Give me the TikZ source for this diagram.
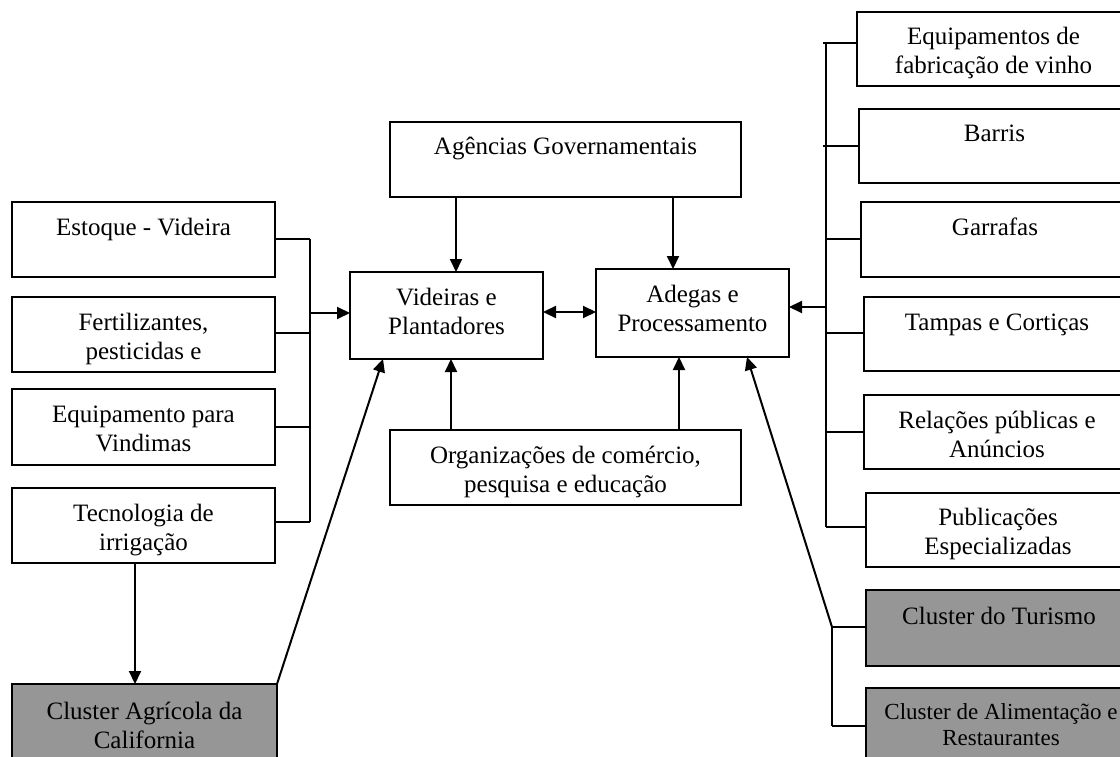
\documentclass[tikz,border=0pt]{standalone}
\usepackage{fontspec}
\setmainfont{Liberation Serif}
\usetikzlibrary{arrows.meta}
\definecolor{clustergray}{RGB}{150,150,150}
\begin{document}
\begin{tikzpicture}[x=1pt,y=-1pt,
  box/.style={draw=black,line width=2pt,fill=white,inner sep=0pt,outer sep=0pt,anchor=north west},
  cluster/.style={box,fill=clustergray},
  txt/.style={inner sep=0pt,anchor=base,align=center,font=\fontsize{25}{29}\selectfont},
  smalltxt/.style={txt,font=\fontsize{23}{26}\selectfont},
  link/.style={line width=2pt},
  arr/.style={link,-{Triangle[length=13pt,width=12pt]}},
  darr/.style={link,{Triangle[length=13pt,width=12pt]}-{Triangle[length=13pt,width=12pt]}}]
\useasboundingbox (0,0) rectangle (1120,757);
\clip (0,0) rectangle (1120,757);

% ---------- supplier boxes, left column
\node[box,minimum width=263pt,minimum height=75pt] (estoque) at (12,202) {};
\node[box,minimum width=263pt,minimum height=75pt] (fert) at (12,297) {};
\node[box,minimum width=263pt,minimum height=76pt] (equip) at (12,389) {};
\node[box,minimum width=263pt,minimum height=75pt] (tecno) at (12,488) {};
\node[cluster,minimum width=265pt,minimum height=90pt] (agricola) at (12,684) {};

% (a two-line text is anchored on the baseline of its second line)
\node[txt] at ([yshift=-33pt]estoque.north) {Estoque - Videira};
\node[txt] at ([yshift=-62pt]fert.north) {Fertilizantes,\\pesticidas e};
\node[txt] at ([yshift=-62pt]equip.north) {Equipamento para\\Vindimas};
\node[txt] at ([yshift=-62pt]tecno.north) {Tecnologia de\\irrigação};
\node[txt] at ([yshift=-64pt]agricola.north) {Cluster Agrícola da\\California};

% ---------- core of the cluster
\node[box,minimum width=193pt,minimum height=87pt] (videiras) at (350,272) {};
\node[box,minimum width=193pt,minimum height=88pt] (adegas) at (596,269) {};
\node[box,minimum width=351pt,minimum height=75pt] (agencias) at (390,122) {};
\node[box,minimum width=351pt,minimum height=75pt] (organiz) at (390,430) {};

\node[txt] at ([yshift=-62pt]videiras.north) {Videiras e\\Plantadores};
\node[txt] at ([yshift=-62pt]adegas.north) {Adegas e\\Processamento};
\node[txt] at ([yshift=-33pt]agencias.north) {Agências Governamentais};
\node[txt] at ([yshift=-62pt]organiz.north) {Organizações de comércio,\\pesquisa e educação};

% ---------- supplier boxes, right column
\node[box,minimum width=273pt,minimum height=74pt] (eqvinho) at (857,12) {};
\node[box,minimum width=271pt,minimum height=74pt] (barris) at (859,109) {};
\node[box,minimum width=268pt,minimum height=75pt] (garrafas) at (861,202) {};
\node[box,minimum width=266pt,minimum height=74pt] (tampas) at (864,297) {};
\node[box,minimum width=266pt,minimum height=74pt] (relacoes) at (864,395) {};
\node[box,minimum width=264pt,minimum height=74pt] (public) at (866,493) {};
\node[cluster,minimum width=266pt,minimum height=76pt] (turismo) at (866,590) {};
\node[cluster,minimum width=270pt,minimum height=90pt] (aliment) at (866,688) {};

\node[txt] at ([yshift=-62pt]eqvinho.north) {Equipamentos de\\fabricação de vinho};
\node[txt] at ([yshift=-33pt]barris.north) {Barris};
\node[txt] at ([yshift=-33pt]garrafas.north) {Garrafas};
\node[txt] at ([yshift=-33pt]tampas.north) {Tampas e Cortiças};
\node[txt] at ([yshift=-62pt]relacoes.north) {Relações públicas e\\Anúncios};
\node[txt] at ([yshift=-61pt]public.north) {Publicações\\Especializadas};
\node[txt] at ([yshift=-34pt]turismo.north) {Cluster do Turismo};
\node[smalltxt] at ([yshift=-57pt]aliment.north) {Cluster de Alimentação e\\Restaurantes};

% ---------- left bracket
\coordinate (lbtop) at (310,239);
\coordinate (lbbot) at (310,522);
\coordinate (lbout) at (310,313);
\draw[link] (lbtop) -- (lbbot);
\draw[link] (estoque.east |- lbtop) -- (lbtop);
\draw[link] (fert.east |- 0,333) -- (310,333);
\draw[link] (equip.east |- 0,427) -- (310,427);
\draw[link] (tecno.east |- lbbot) -- (lbbot);
\draw[arr] (lbout) -- (videiras.west |- lbout);

% ---------- right bracket
\coordinate (rbtop) at (826,43);
\coordinate (rbbot) at (826,527);
\coordinate (rbout) at (826,307);
\draw[link] (rbtop) -- (rbbot);
\draw[link] ([xshift=-3pt]rbtop) -- (eqvinho.west |- rbtop);
\draw[link] (823,146) -- (barris.west |- 0,146);
\draw[link] (826,239) -- (garrafas.west |- 0,239);
\draw[link] (826,333) -- (tampas.west |- 0,333);
\draw[link] (826,432) -- (relacoes.west |- 0,432);
\draw[link] (rbbot) -- (public.west |- rbbot);
\draw[arr] (rbout) -- (adegas.east |- rbout);

% ---------- lower right bracket (tourism and food clusters)
\coordinate (lrtop) at (832,627);
\coordinate (lrbot) at (832,726);
\draw[link] (lrtop) -- (lrbot);
\draw[link] (lrtop) -- (turismo.west |- lrtop);
\draw[link] (lrbot) -- (aliment.west |- lrbot);
\draw[arr] (lrtop) -- ([xshift=54.5pt]adegas.south);

% ---------- links between the core boxes
\draw[darr] (videiras.east |- 0,312) -- (adegas.west |- 0,312);
\draw[arr] ([xshift=9.5pt]videiras.north |- agencias.south) -- ([xshift=9.5pt]videiras.north);
\draw[arr] ([xshift=-19.5pt]adegas.north |- agencias.south) -- ([xshift=-19.5pt]adegas.north);
\draw[arr] ([xshift=4.5pt]videiras.south |- organiz.north) -- ([xshift=4.5pt]videiras.south);
\draw[arr] ([xshift=-13.5pt]adegas.south |- organiz.north) -- ([xshift=-13.5pt]adegas.south);

% ---------- irrigation and agricultural cluster
\draw[arr] ([xshift=-8.5pt]tecno.south) -- ([xshift=-8.5pt]tecno.south |- agricola.north);
\draw[arr] (agricola.north east) -- ([xshift=-63.5pt]videiras.south);
\end{tikzpicture}
\end{document}
